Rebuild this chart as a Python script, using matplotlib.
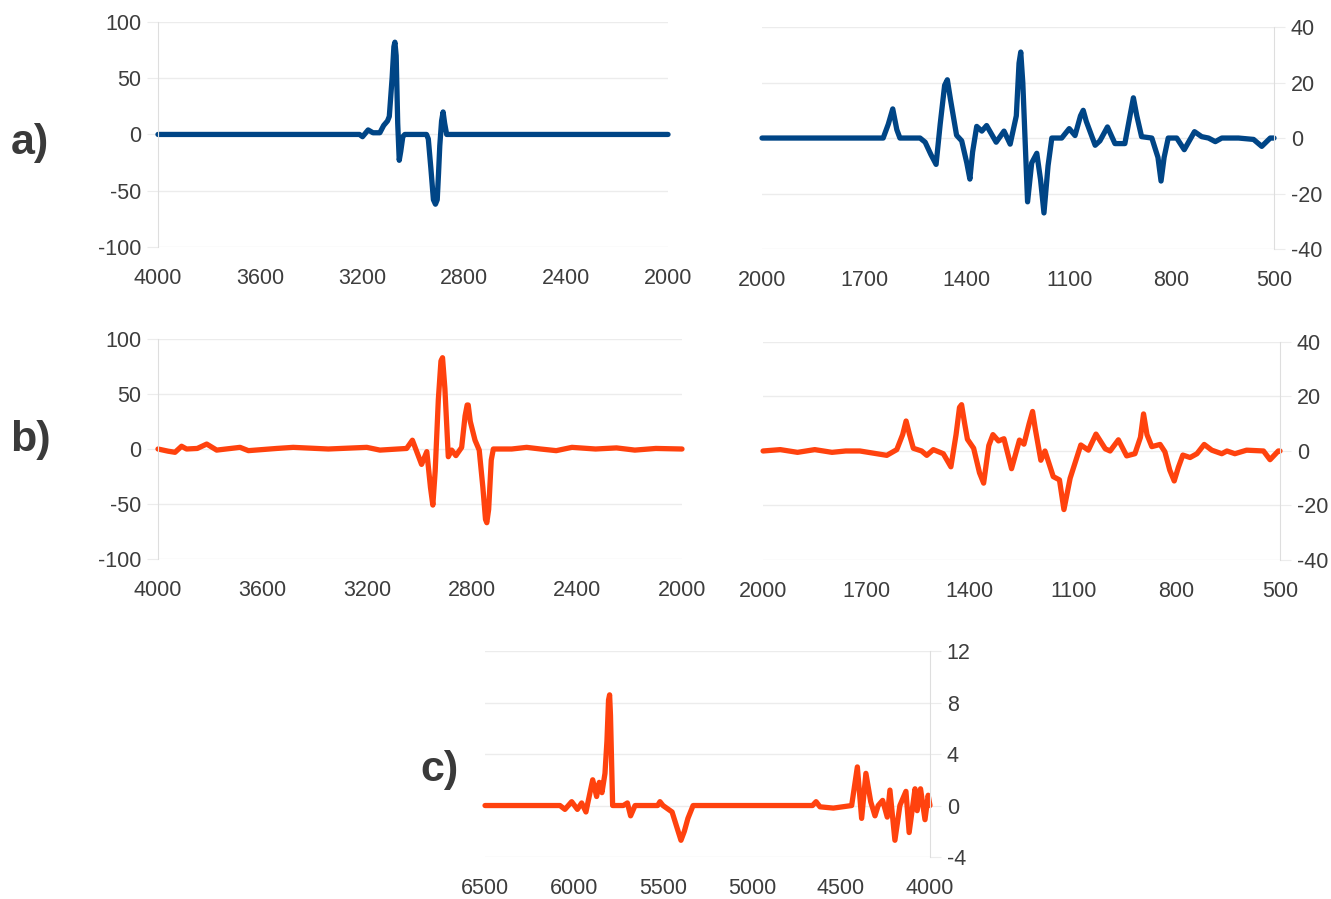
import matplotlib.pyplot as plt

plt.rcParams['font.family'] = ['Liberation Sans', 'DejaVu Sans']
plt.rcParams['axes.unicode_minus'] = False

blue = '#004586'
orange = '#ff420e'
grid_col = '#ececec'
text_col = '#3d3d3d'

# a) left : 4000-2000
a1_x = [4000, 3210, 3198, 3176, 3157, 3130, 3115, 3100, 3093, 3082, 3075, 3071, 3066,
        3060, 3054, 3048, 3040, 3032, 2947, 2940, 2930, 2920, 2912, 2905, 2900,
        2895, 2888, 2882, 2876, 2868, 2000]
a1_y = [0, 0, -2, 4, 1.5, 1.5, 8, 12, 16, 50, 78, 82, 70,
        10, -23, -15, -2, 0, 0, -4, -30, -58, -62, -58, -35,
        -10, 12, 20, 10, 0, 0]

# a) right : 2000-500
a2_x = [2000, 1645, 1630, 1617, 1605, 1596, 1537, 1522, 1505, 1490, 1478, 1465,
        1457, 1448, 1430, 1415, 1400, 1391, 1383, 1371, 1356, 1342, 1314, 1291,
        1273, 1255, 1247, 1242, 1236, 1222, 1210, 1195, 1184, 1174, 1162, 1151,
        1122, 1100, 1083, 1067, 1059, 1050, 1024, 1010, 988, 966, 937, 922, 912,
        902, 888, 858, 840, 831, 822, 810, 785, 763, 733, 712, 692, 672, 653, 604,
        560, 536, 511, 500]
a2_y = [0, 0, 5, 10.5, 3, 0, 0, -1.5, -6, -9.5, 5, 19,
        21, 14, 1, -1, -9, -14.8, -5, 4.2, 2.5, 4.5, -1.5, 2.5,
        -2.2, 8, 27, 31, 20, -23, -9, -5.5, -15, -27, -10, 0,
        0, 3.4, 0.9, 8, 10, 6, -2.6, -1, 4, -2, -2, 8, 14.5,
        8, 0.5, 0, -7, -15.5, -7, 0, 0, -4.2, 2.3, 0.5, 0, -1.3, 0, 0,
        -0.5, -3, 0, 0]

# b) left : 4000-2000
b1_x = [4000, 3961, 3935, 3910, 3891, 3850, 3814, 3776, 3687, 3655, 3547, 3484,
        3350, 3203, 3153, 3051, 3029, 2994, 2974, 2960, 2951, 2942, 2930, 2920,
        2914, 2905, 2892, 2879, 2863, 2841, 2828, 2820, 2816, 2808, 2790, 2774,
        2760, 2750, 2745, 2738, 2728, 2720, 2650, 2593, 2540, 2480, 2420, 2330,
        2250, 2180, 2100, 2000]
b1_y = [0, -2, -3, 2.5, 0, 0.5, 4.5, -1, 1.5, -1.5, 0.5, 1.5,
        0, 1.5, -1, 0.5, 8, -14, -2.4, -35, -51, -20, 45, 80,
        83, 55, -7, -1, -6, 1.5, 30, 40, 40, 25, 8, -1,
        -35, -64, -67, -55, -10, 0, 0, 1.5, 0, -1.5, 1.5, 0,
        1, -1, 0.5, 0]

# b) right : 2000-500
b2_x = [2000, 1950, 1900, 1850, 1800, 1760, 1719, 1641, 1612, 1595, 1585, 1575,
        1564, 1540, 1525, 1506, 1477, 1455, 1440, 1430, 1424, 1415, 1407, 1389,
        1372, 1360, 1345, 1333, 1317, 1301, 1279, 1256, 1243, 1228, 1218, 1210,
        1194, 1182, 1158, 1140, 1127, 1109, 1078, 1056, 1034, 1007, 993, 969, 945,
        921, 905, 896, 886, 872, 848, 834, 820, 807, 795, 782, 761, 741, 720,
        698, 669, 654, 631, 597, 548, 529, 505, 500]
b2_y = [0, 0.5, -0.5, 0.5, -0.5, 0, 0, -1.6, 0.5, 6, 11, 6,
        1, 0, -1.6, 0.5, -1, -5.8, 6, 16, 17, 10, 4.3, 1,
        -8, -11.8, 2, 6, 3.7, 4.5, -6.5, 4, 2.5, 10, 14.5, 8,
        -3.4, 0, -9.4, -10.6, -21.5, -10, 2.2, 0.3, 6.2, 0.8, 0, 4.1, -1.8,
        -1, 5, 13.6, 6, 1.6, 2.4, -0.3, -7, -11, -6, -1.5, -2.4, -1, 2.4,
        0.3, -1, 0, -1, 0.3, 0, -3.2, 0, 0]

# c) 6500-4000
c_x = [6500, 6079, 6051, 6013, 5981, 5957, 5933, 5895, 5873, 5858, 5843, 5826,
       5815, 5806, 5800, 5795, 5783, 5723, 5700, 5682, 5657, 5530, 5517, 5500,
       5449, 5415, 5399, 5380, 5360, 5331, 4660, 4640, 4618, 4543, 4440, 4408,
       4384, 4360, 4333, 4309, 4291, 4266, 4240, 4225, 4197, 4169, 4135, 4117,
       4084, 4072, 4053, 4028, 4010, 4000]
c_y = [0, 0, -0.3, 0.3, -0.3, 0.2, -0.5, 2, 0.7, 1.8, 1, 2.5,
       5, 8.2, 8.6, 7, 0, 0, 0.2, -0.8, 0, 0, 0.3, 0,
       -0.5, -2, -2.7, -2, -1, 0, 0, 0.3, -0.1, -0.2, 0, 3,
       -1, 2.5, 0.3, -0.8, 0, 0.4, -0.9, 1.2, -2.7, 0, 1.1, -2.1,
       1.3, -0.4, 1.3, -1.1, 0.8, 0]


def panel(rect, x, y, color, xlim, xticks, ylim, yticks, side):
    ax = fig.add_axes(rect)
    ax.plot(x, y, color=color, lw=3.8, solid_joinstyle='round', solid_capstyle='round', clip_on=False)
    ax.set_xlim(xlim)
    ax.set_ylim(ylim)
    ax.set_xticks(xticks)
    ax.set_yticks(yticks)
    ax.grid(axis='y', color=grid_col, lw=1)
    ax.set_axisbelow(True)
    for s in ['top', 'bottom', 'left', 'right']:
        ax.spines[s].set_visible(False)
    ax.spines[side].set_visible(True)
    ax.spines[side].set_color('#dedede')
    if side == 'right':
        ax.yaxis.tick_right()
    ax.tick_params(axis='y', length=8, color=grid_col, pad=4, labelsize=15.5, labelcolor=text_col)
    ax.tick_params(axis='x', length=0, pad=15, labelsize=15.5, labelcolor=text_col)
    return ax


fig = plt.figure(figsize=(13.31, 8.99), dpi=100)

panel([0.1187, 0.7253, 0.3832, 0.2503], a1_x, a1_y, blue, (4000, 2000),
      [4000, 3600, 3200, 2800, 2400, 2000], (-100, 100), [-100, -50, 0, 50, 100], 'left')
panel([0.5725, 0.7230, 0.3847, 0.2469], a2_x, a2_y, blue, (2000, 500),
      [2000, 1700, 1400, 1100, 800, 500], (-40, 40), [-40, -20, 0, 20, 40], 'right')
panel([0.1187, 0.3782, 0.3937, 0.2447], b1_x, b1_y, orange, (4000, 2000),
      [4000, 3600, 3200, 2800, 2400, 2000], (-100, 100), [-100, -50, 0, 50, 100], 'left')
panel([0.5733, 0.3771, 0.3884, 0.2425], b2_x, b2_y, orange, (2000, 500),
      [2000, 1700, 1400, 1100, 800, 500], (-40, 40), [-40, -20, 0, 20, 40], 'right')
panel([0.3644, 0.0467, 0.3343, 0.2291], c_x, c_y, orange, (6500, 4000),
      [6500, 6000, 5500, 5000, 4500, 4000], (-4, 12), [-4, 0, 4, 8, 12], 'right')

fig.text(30 / 1331, 1 - 143 / 899, 'a)', fontsize=31, fontweight='bold', color='#3a3a3a', ha='center', va='center')
fig.text(30 / 1331, 1 - 440 / 899, 'b)', fontsize=31, fontweight='bold', color='#3a3a3a', ha='center', va='center')
fig.text(440 / 1331, 1 - 770 / 899, 'c)', fontsize=31, fontweight='bold', color='#3a3a3a', ha='center', va='center')

fig.savefig('out.png', dpi=100)
